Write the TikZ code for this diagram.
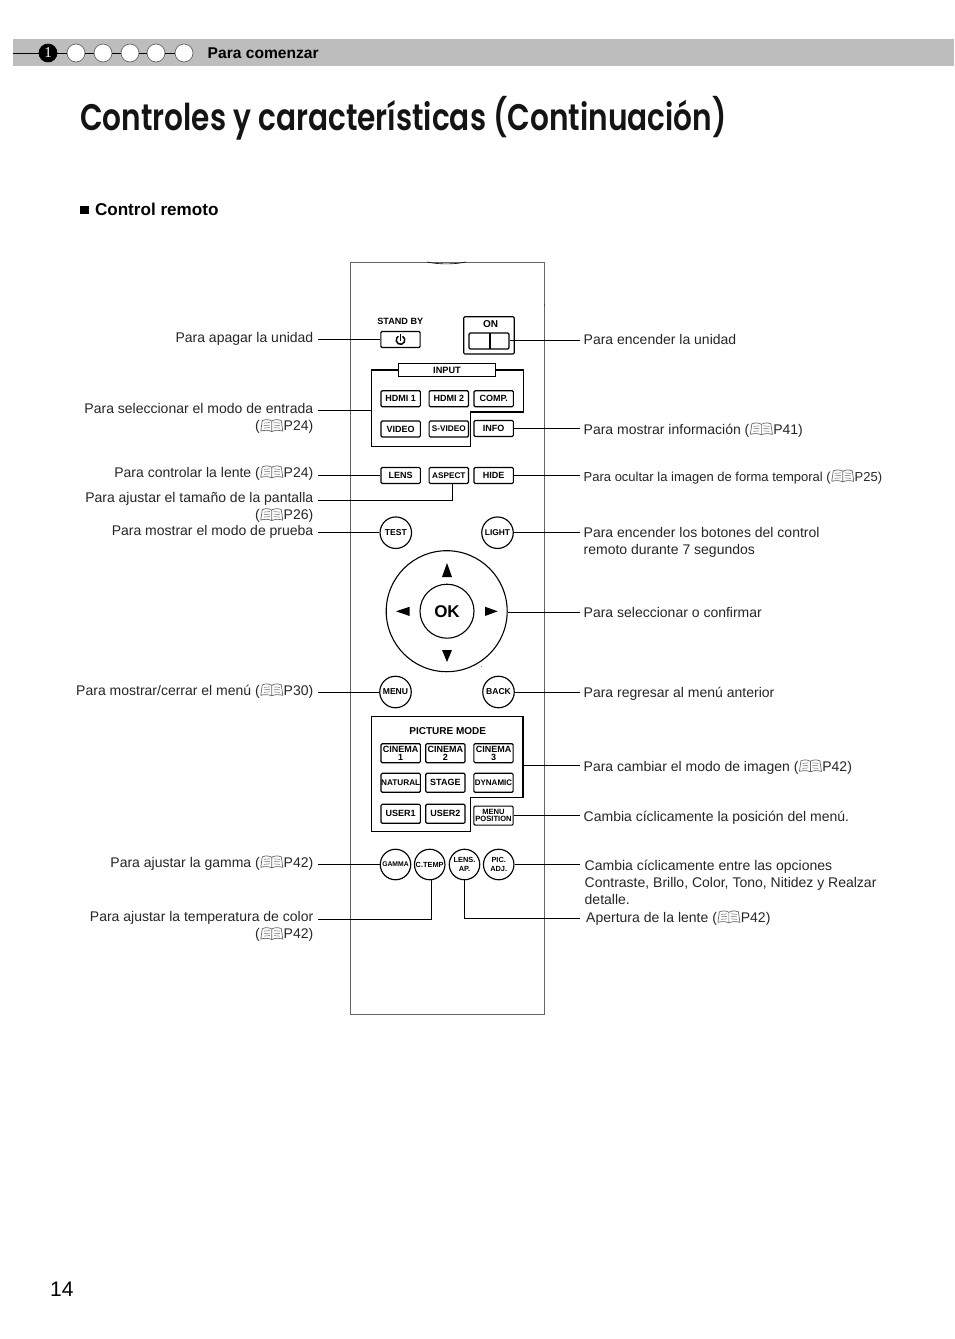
\documentclass[tikz,border=0pt]{standalone}
\usepackage{fontspec}
\setmainfont{Liberation Sans}
\newfontfamily\serifnum{Liberation Serif}
\newfontfamily\titlefont[FakeStretch=0.80]{Poppins SemiBold}
\newsavebox\bkbox
\newcommand{\bkln}[4]{\pgfpathmoveto{\pgfpoint{#1pt}{#2pt}}\pgfpathlineto{\pgfpoint{#3pt}{#4pt}}}
\AtBeginDocument{\sbox\bkbox{\pgfpicture
  \pgfsetstrokecolor{black!60}\pgfsetlinewidth{0.7pt}
  \pgfpathmoveto{\pgfpoint{0pt}{0pt}}
  \pgfpathlineto{\pgfpoint{1.5pt}{10.5pt}}
  \pgfpathcurveto{\pgfpoint{5pt}{12pt}}{\pgfpoint{9pt}{11.5pt}}{\pgfpoint{11pt}{10pt}}
  \pgfpathcurveto{\pgfpoint{13pt}{11.5pt}}{\pgfpoint{17pt}{12pt}}{\pgfpoint{20.5pt}{10.5pt}}
  \pgfpathlineto{\pgfpoint{22pt}{0pt}}
  \pgfpathcurveto{\pgfpoint{18pt}{1.2pt}}{\pgfpoint{14pt}{1pt}}{\pgfpoint{11pt}{-0.5pt}}
  \pgfpathcurveto{\pgfpoint{8pt}{1pt}}{\pgfpoint{4pt}{1.2pt}}{\pgfpoint{0pt}{0pt}}
  \bkln{11}{10}{11}{-0.5}
  \pgfusepath{stroke}
  \pgfsetlinewidth{0.5pt}
  \bkln{3}{3}{9}{3.5}\bkln{3}{5.5}{9}{6}\bkln{3}{8}{9}{8.5}
  \bkln{13}{3.5}{19}{3}\bkln{13}{6}{19}{5.5}\bkln{13}{8.5}{19}{8}
  \pgfusepath{stroke}
\endpgfpicture}}
\newcommand{\bk}{\kern0.6pt\raisebox{-1.2pt}{\usebox\bkbox}\kern0.6pt}
\tikzset{
  conn/.style={line width=1pt,black},
  lbl/.style={inner sep=0pt,font=\fontsize{14}{17}\selectfont,text=black!85},
  lleft/.style={lbl,anchor=base east},
  lright/.style={lbl,anchor=base west},
  mleft/.style={lbl,anchor=north east,align=right},
  mright/.style={lbl,anchor=north west,align=left},
  rbtn/.style={draw=black,line width=1.15pt,rounded corners=1.2pt,fill=white,inner sep=0pt,minimum width=39.3pt,minimum height=16pt,align=center,font=\fontsize{9}{8}\selectfont\bfseries},
  tallbtn/.style={rbtn,minimum height=19pt},
  cbtn/.style={draw=black,line width=1.15pt,circle,fill=white,inner sep=0pt,minimum size=31.5pt,align=center,font=\fontsize{8.6}{8}\selectfont\bfseries},
  dot/.style={draw=black!60,line width=0.7pt,circle,fill=white,inner sep=0pt,minimum size=18pt},
  tri/.style={fill=black,draw=none}
}
\begin{document}
\begin{tikzpicture}[x=1pt,y=-1pt]
\useasboundingbox (0,0) rectangle (954,1339);
\fill[white] (0,0) rectangle (954,1339);
% header
\fill[black!26] (13,39) rectangle (954,66);
\coordinate (hs) at (13,53);
\node[dot,fill=black,draw=black,text=white,font=\fontsize{15}{15}\selectfont\serifnum] (c1) at (48,53) {1};
\node[dot] (c2) at (76,53) {};
\node[dot] (c3) at (103,53) {};
\node[dot] (c4) at (130,53) {};
\node[dot] (c5) at (156,53) {};
\node[dot] (c6) at (184,53) {};
\draw[line width=.7pt] (hs) -- (c1) (c1) -- (c2) (c2) -- (c3) (c3) -- (c4) (c4) -- (c5) (c5) -- (c6);
\node[inner sep=0pt,anchor=base west,font=\fontsize{15.6}{15}\selectfont\bfseries] (hd) at (207.5,58.3) {Para comenzar};
\node[inner sep=0pt,anchor=base west,font=\fontsize{37}{37}\selectfont\titlefont,text=black!92] (title) at (80,130) {Controles y características (Continuación)};
\node[inner sep=0pt,anchor=base west,font=\fontsize{17.1}{17}\selectfont\bfseries] (sec) at (80,215) {{\raisebox{0.6pt}{\rule{8.5pt}{8.5pt}}}\hspace{6.3pt}Control remoto};
\node[inner sep=0pt,anchor=base west,font=\fontsize{21}{21}\selectfont] (pg) at (50,1296) {14};
% body
\draw[black!60,line width=0.9pt] (350,262) rectangle (544.5,1014);
\draw[black,line width=.6pt] (427,262) .. controls (438,264.5) and (455,264.5) .. (466,262);
\fill[black] (544.5,305) circle[radius=.5pt];
\fill[black] (481.7,666.5) circle[radius=.4pt];
% standby / on
\node[inner sep=0pt,font=\fontsize{9.1}{9}\selectfont\bfseries] (sbt) at (400.3,321.3) {STAND BY};
\node[rbtn] (standby) at (400.5,339.5) {};
\draw[line width=1.5pt] (402.65,336.3) arc[start angle=60,end angle=-240,radius=4.3pt];
\draw[line width=1.5pt] (400.5,334) -- (400.5,340.5);
\draw[line width=1.15pt,rounded corners=1.2pt,fill=white] (463.7,316.7) rectangle (514.3,354);
\node[inner sep=0pt,font=\fontsize{10}{9}\selectfont\bfseries] (ont) at (490.5,323.8) {ON};
\node[rbtn,minimum width=40pt] (on) at (489,341) {};
\draw[line width=1.1pt] (490,333) -- (490,349);
\coordinate (rOn) at (580,340);
\draw[conn] (on.east |- rOn) -- (rOn);
% input box
\draw[line width=1.2pt] (371.7,370) -- (523.3,370) -- (523.3,412) -- (470.7,412) -- (470.7,446.3) -- (371.7,446.3) -- cycle;
\node[draw=black,line width=1.1pt,fill=white,minimum width=96.5pt,minimum height=13pt,inner sep=0pt,font=\fontsize{9.2}{9}\selectfont\bfseries] (input) at (447,370.4) {INPUT};
\node[rbtn] (hdmi1) at (400.7,398.7) {HDMI 1};
\node[rbtn] (hdmi2) at (448.8,398.7) {HDMI 2};
\node[rbtn] (comp) at (493.7,398.7) {COMP.};
\node[rbtn] (video) at (400.7,429) {VIDEO};
\node[rbtn,font=\fontsize{8.2}{8}\selectfont\bfseries] (svideo) at (448.8,429) {S-VIDEO};
\node[rbtn] (info) at (493.7,428.5) {INFO};
\node[rbtn] (lens) at (400.7,475.5) {LENS};
\node[rbtn,font=\fontsize{8.2}{8}\selectfont\bfseries] (aspect) at (448.8,475.5) {ASPECT};
\node[rbtn] (hide) at (493.7,475.5) {HIDE};
% round top
\node[cbtn] (test) at (395.8,532.7) {TEST};
\node[cbtn,font=\fontsize{8.4}{8}\selectfont\bfseries] (light) at (497.5,532.7) {LIGHT};
% dial
\node[draw=black,line width=1.1pt,circle,minimum size=121pt,inner sep=0pt] (dial) at (446.7,611.2) {};
\node[draw=black,line width=1.1pt,circle,minimum size=54pt,inner sep=0pt,font=\fontsize{17}{17}\selectfont\bfseries] (ok) at (447,611.2) {OK};
\fill[tri] (447,563) -- (452,577) -- (442,577) -- cycle;
\fill[tri] (447,662) -- (452,650) -- (442,650) -- cycle;
\fill[tri] (396,611.3) -- (409.7,606.7) -- (409.7,616) -- cycle;
\fill[tri] (497.7,611.3) -- (485,606.7) -- (485,616) -- cycle;
\node[cbtn] (menu) at (395.5,692) {MENU};
\node[cbtn] (back) at (498.5,692) {BACK};
% picture mode
\draw[line width=1.2pt] (371.7,716.7) -- (523,716.7) -- (523,797.3) -- (470.7,797.3) -- (470.7,831.7) -- (371.7,831.7) -- cycle;
\node[inner sep=0pt,font=\fontsize{10}{9}\selectfont\bfseries] (pmt) at (447.7,730.7) {PICTURE MODE};
\node[tallbtn] (cin1) at (400.7,753.2) {CINEMA\\1};
\node[tallbtn] (cin2) at (445.4,753.2) {CINEMA\\2};
\node[tallbtn] (cin3) at (493.5,753.2) {CINEMA\\3};
\node[tallbtn,font=\fontsize{8.2}{8}\selectfont\bfseries] (nat) at (400.7,782.8) {NATURAL};
\node[tallbtn] (stage) at (445.4,782.8) {STAGE};
\node[tallbtn,font=\fontsize{8}{8}\selectfont\bfseries] (dyn) at (493.5,782.8) {DYNAMIC};
\node[tallbtn] (user1) at (400.7,813.8) {USER1};
\node[tallbtn] (user2) at (445.4,813.8) {USER2};
\node[tallbtn,font=\fontsize{7.6}{7.2}\selectfont\bfseries] (mpos) at (493.5,815.6) {MENU\\POSITION};
% bottom circles
\node[cbtn,minimum size=30.5pt,font=\fontsize{6.8}{7}\selectfont\bfseries] (gamma) at (395.5,864.5) {GAMMA};
\node[cbtn,minimum size=30.5pt,font=\fontsize{7.4}{7}\selectfont\bfseries] (ctemp) at (429.7,864.5) {C.TEMP};
\node[cbtn,minimum size=30.5pt,font=\fontsize{7.4}{8.2}\selectfont\bfseries] (lensap) at (464.5,864.5) {LENS.\\AP.};
\node[cbtn,minimum size=30.5pt,font=\fontsize{7.4}{8.2}\selectfont\bfseries] (picadj) at (498.7,864.5) {PIC.\\ADJ.};
% connector ends
\coordinate (lA) at (318,339.5);
\coordinate (lB) at (318,410.3);
\coordinate (lC) at (318,475.5);
\coordinate (lD) at (318,500.3);
\coordinate (lE) at (318,532.7);
\coordinate (lF) at (318,692);
\coordinate (lG) at (318,864.5);
\coordinate (lH) at (318,919);
\coordinate (bH) at (431.7,919);
\coordinate (bD) at (452.7,500.3);
\coordinate (rB) at (580,428.5);
\coordinate (rC) at (580,475.5);
\coordinate (rD) at (580,532.7);
\coordinate (rE) at (580,612.7);
\coordinate (rF) at (580,692);
\coordinate (rG) at (580,765.7);
\coordinate (rGs) at (523,765.7);
\coordinate (rH) at (580,815.6);
\coordinate (rI) at (580,864.5);
\coordinate (rJ) at (580,918);
\coordinate (bJ) at (464.5,918);
\coordinate (lBe) at (371.7,410.3);
\draw[conn] (lA) -- (standby.west);
\draw[conn] (lB) -- (lBe);
\draw[conn] (lC) -- (lens.west);
\draw[conn] (lD) -- (bD) -- (aspect.south -| bD);
\draw[conn] (lE) -- (test.west);
\draw[conn] (lF) -- (menu.west);
\draw[conn] (lG) -- (gamma.west);
\draw[conn] (lH) -- (bH) -- (ctemp.south -| bH);
\draw[conn] (info.east) -- (rB);
\draw[conn] (hide.east) -- (rC);
\draw[conn] (light.east) -- (rD);
\draw[conn] (dial.east |- rE) -- (rE);
\draw[conn] (back.east) -- (rF);
\draw[conn] (rGs) -- (rG);
\draw[conn] (mpos.east) -- (rH);
\draw[conn] (picadj.east) -- (rI);
\draw[conn] (lensap.south) -- (bJ) -- (rJ);
% left labels
\node[lleft] (t1) at (313.5,342) {Para apagar la unidad};
\node[mleft] (t2) at (313.5,403.4) {Para seleccionar el modo de entrada\\(\bk P24)};
\node[lleft] (t3) at (313.5,477) {Para controlar la lente (\bk P24)};
\node[mleft] (t4) at (313.5,492.4) {Para ajustar el tamaño de la pantalla\\(\bk P26)};
\node[lleft] (t5) at (313.5,535) {Para mostrar el modo de prueba};
\node[lleft] (t6) at (313.5,695) {Para mostrar/cerrar el menú (\bk P30)};
\node[lleft] (t7) at (313.5,867) {Para ajustar la gamma (\bk P42)};
\node[mleft] (t8) at (313.5,911.4) {Para ajustar la temperatura de color\\(\bk P42)};
% right labels
\node[lright] (r1) at (583.5,344) {Para encender la unidad};
\node[lright] (r2) at (583.5,434) {Para mostrar información (\bk P41)};
\node[lright,font=\fontsize{13}{15}\selectfont] (r3) at (583.5,481) {Para ocultar la imagen de forma temporal (\bk P25)};
\node[mright] (r4) at (583.5,527.4) {Para encender los botones del control\\remoto durante 7 segundos};
\node[lright] (r5) at (583.5,617) {Para seleccionar o confirmar};
\node[lright] (r6) at (583.5,697) {Para regresar al menú anterior};
\node[lright] (r7) at (583.5,771) {Para cambiar el modo de imagen (\bk P42)};
\node[lright] (r8) at (583.5,821) {Cambia cíclicamente la posición del menú.};
\node[mright] (r9) at (584.5,860) {Cambia cíclicamente entre las opciones\\Contraste, Brillo, Color, Tono, Nitidez y Realzar\\detalle.};
\node[lright] (r10) at (586,922) {Apertura de la lente (\bk P42)};
\end{tikzpicture}
\end{document}
